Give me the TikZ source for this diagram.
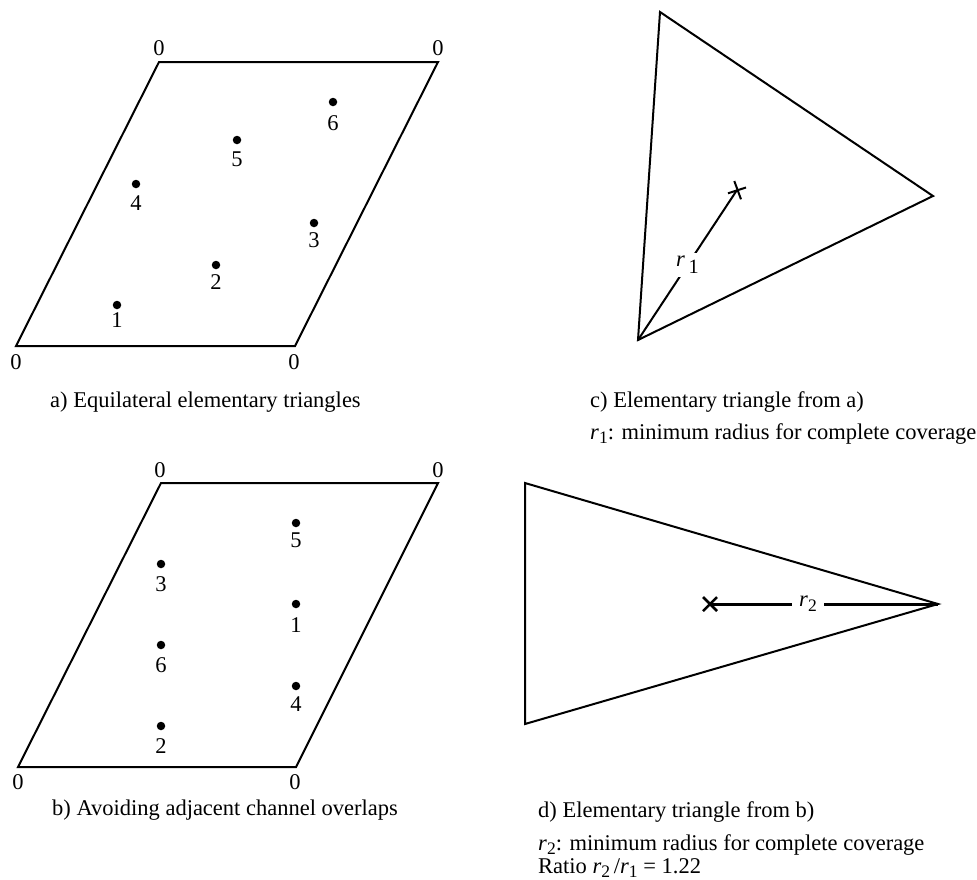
\documentclass[tikz,border=0pt]{standalone}
\usepackage{fontspec}
\setmainfont{Liberation Serif}
\usepackage{graphicx}
\newcommand{\rsub}[1]{\textit{r}\raisebox{-0.22em}{\scalebox{0.78}{#1}}}
\begin{document}
\begin{tikzpicture}[x=1pt,y=-1pt,
  outline/.style={line width=2pt, line join=miter},
  rline/.style={line width=2pt},
  rthick/.style={line width=3pt},
  dotnode/.style={circle, fill=black, inner sep=0pt, minimum size=8.5pt},
  lbl/.style={inner sep=0pt, font=\fontsize{22.5}{27}\selectfont},
  captxt/.style={anchor=base west, inner sep=0pt, font=\fontsize{22.5}{27}\selectfont}]
\useasboundingbox (0,0) rectangle (977,879);

% ---------- a) parallelogram ----------
\coordinate (A1) at (16,346);
\coordinate (A2) at (295,346);
\coordinate (A3) at (438,62);
\coordinate (A4) at (159,62);
\draw[outline] (A1) -- (A2) -- (A3) -- (A4) -- cycle;
\node[lbl] (za1) at (16,362) {0};
\node[lbl] (za2) at (294,362) {0};
\node[lbl] (za3) at (438,48) {0};
\node[lbl] (za4) at (159,48) {0};

\node[dotnode] (a1) at (117,305) {};
\node[dotnode] (a2) at (216,265) {};
\node[dotnode] (a3) at (314,223) {};
\node[dotnode] (a4) at (136,184) {};
\node[dotnode] (a5) at (237,140) {};
\node[dotnode] (a6) at (333,102) {};
\node[lbl] (la1) at (117,320) {1};
\node[lbl] (la2) at (216,282) {2};
\node[lbl] (la3) at (314,240) {3};
\node[lbl] (la4) at (136,203) {4};
\node[lbl] (la5) at (237,159) {5};
\node[lbl] (la6) at (333,123) {6};

\node[captxt] (capa) at (50,407) {a) Equilateral elementary triangles};

% ---------- b) parallelogram ----------
\coordinate (B1) at (18,767);
\coordinate (B2) at (296,767);
\coordinate (B3) at (438,483);
\coordinate (B4) at (161,483);
\draw[outline] (B1) -- (B2) -- (B3) -- (B4) -- cycle;
\node[lbl] (zb1) at (18,782) {0};
\node[lbl] (zb2) at (295,782) {0};
\node[lbl] (zb3) at (438,470) {0};
\node[lbl] (zb4) at (160,470) {0};

\node[dotnode] (b5) at (296,523) {};
\node[dotnode] (b1) at (296,604) {};
\node[dotnode] (b4) at (296,686) {};
\node[dotnode] (b3) at (161,564) {};
\node[dotnode] (b6) at (161,645) {};
\node[dotnode] (b2) at (161,726) {};
\node[lbl] (lb5) at (296,540) {5};
\node[lbl] (lb1) at (296,625) {1};
\node[lbl] (lb4) at (296,704) {4};
\node[lbl] (lb3) at (161,584) {3};
\node[lbl] (lb6) at (161,665) {6};
\node[lbl] (lb2) at (161,746) {2};

\node[captxt] (capb) at (52,815) {b) Avoiding adjacent channel overlaps};

% ---------- c) triangle ----------
\coordinate (C1) at (660,12);
\coordinate (C2) at (933,196);
\coordinate (C3) at (638,340);
\draw[outline] (C1) -- (C2) -- (C3) -- cycle;
\coordinate (X1) at (737,190);
\draw[rline] ([shift={(-9,3.3)}]X1) -- ([shift={(9,-2.5)}]X1);
\draw[rline] ([shift={(-2.7,-9)}]X1) -- ([shift={(4,9.3)}]X1);
\draw[rline] (C3) -- node[fill=white, inner sep=3pt, font=\fontsize{22.5}{27}\selectfont] (r1) {\textit{r}\,\raisebox{-0.3em}{\scalebox{0.9}{1}}} (X1);

\node[captxt] (capc1) at (590,407) {c) Elementary triangle from a)};
\node[captxt] (capc2) at (590,439) {\rsub{1}: minimum radius for complete coverage};

% ---------- d) triangle ----------
\coordinate (D1) at (525,483);
\coordinate (D2) at (938,604);
\coordinate (D3) at (525,724);
\draw[outline] (D1) -- (D2) -- (D3) -- cycle;
\coordinate (X2) at (710,604);
\draw[line width=2.5pt] ([shift={(-7,-7)}]X2) -- ([shift={(7,7)}]X2);
\draw[line width=2.5pt] ([shift={(-7,7)}]X2) -- ([shift={(7,-7)}]X2);
\draw[rthick] (X2) -- node[pos=0.43, fill=white, inner xsep=7pt, inner ysep=4pt, font=\fontsize{22.5}{27}\selectfont] (r2) {\rsub{2}} (D2);

\node[captxt] (capd1) at (538,817) {d) Elementary triangle from b)};
\node[captxt] (capd2) at (538,850) {\rsub{2}: minimum radius for complete coverage};
\node[captxt] (capd3) at (538,873) {Ratio \rsub{2}\,/\rsub{1} = 1.22};
\end{tikzpicture}
\end{document}
